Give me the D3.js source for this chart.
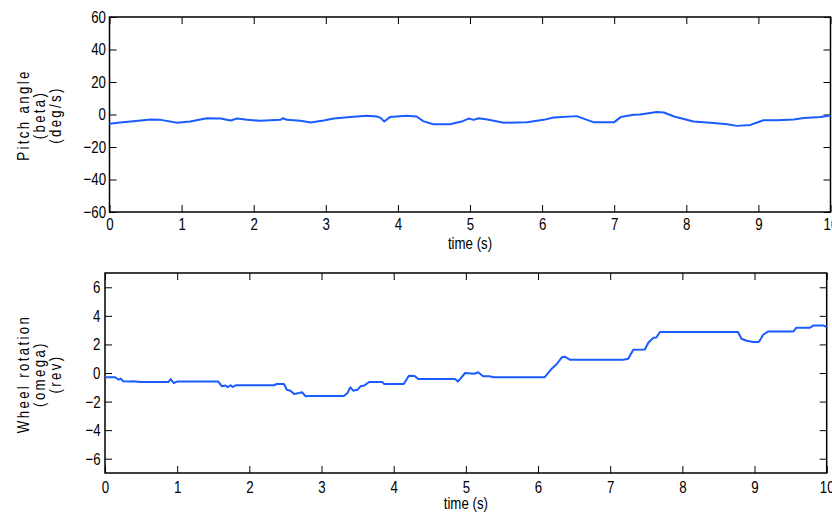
<!DOCTYPE html>
<html>
<head>
<meta charset="utf-8">
<script src="https://cdn.jsdelivr.net/npm/d3@7"></script>
<style>
    body { margin: 0; background: #fff; }
    svg text { font-family: "Liberation Sans", Arial, sans-serif; fill: #000; }
</style>
</head>
<body>
<div id="chart"></div>
<script>
// Pitch angle (deg/s)
const pitchTime = [0, 0.15, 0.33, 0.57, 0.71, 0.94, 1.12, 1.35, 1.54, 1.68, 1.77, 1.91, 2.09, 2.37, 2.41, 2.46,
    2.65, 2.79, 2.97, 3.11, 3.34, 3.57, 3.71, 3.76, 3.81, 3.89, 4.12, 4.26, 4.35, 4.49, 4.72, 4.90, 4.98,
    5.05, 5.12, 5.24, 5.47, 5.79, 6.02, 6.16, 6.48, 6.71, 6.85, 7.00, 7.09, 7.27, 7.36, 7.59, 7.69, 7.83,
    8.10, 8.38, 8.57, 8.70, 8.89, 9.07, 9.26, 9.49, 9.63, 9.86, 10];
const pitchValue = [-5.7, -4.9, -4.1, -3.1, -3.3, -5.1, -4.3, -2.3, -2.5, -3.7, -2.5, -3.3, -3.9, -3.3, -2.3, -3.3,
    -3.9, -4.9, -3.7, -2.5, -1.6, -0.8, -1.2, -2.1, -4.3, -1.6, -0.8, -1.2, -4.1, -6.0, -6.0, -4.1, -2.5,
    -3.3, -2.3, -3.1, -5.1, -4.7, -3.3, -1.8, -1.0, -4.7, -4.7, -4.7, -1.6, -0.2, 0.0, 1.6, 1.2, -1.2,
    -4.3, -5.3, -6.0, -7.0, -6.4, -3.5, -3.5, -3.1, -2.1, -1.6, -0.6];

// Wheel rotation (rev)
const wheelTime = [0, 0.14, 0.19, 0.22, 0.25, 0.35, 0.39, 0.49, 0.88, 0.91, 0.95, 1.0, 1.57, 1.62, 1.67, 1.70,
    1.74, 1.77, 1.81, 2.34, 2.38, 2.48, 2.52, 2.57, 2.62, 2.69, 2.73, 2.78, 2.82, 3.31, 3.36, 3.40, 3.44,
    3.50, 3.54, 3.59, 3.66, 3.84, 3.87, 4.14, 4.21, 4.29, 4.34, 4.85, 4.89, 4.99, 5.12, 5.17, 5.24, 5.33,
    5.38, 6.09, 6.19, 6.26, 6.33, 6.37, 6.44, 7.18, 7.25, 7.32, 7.48, 7.53, 7.60, 7.64, 7.69, 8.77, 8.82,
    8.89, 8.98, 9.06, 9.12, 9.19, 9.54, 9.58, 9.77, 9.82, 9.95, 10];
const wheelValue = [-0.3, -0.3, -0.47, -0.4, -0.58, -0.6, -0.58, -0.63, -0.63, -0.42, -0.7, -0.6, -0.6, -0.93, -0.88, -1.0,
    -0.86, -0.98, -0.86, -0.86, -0.77, -0.77, -1.17, -1.24, -1.47, -1.4, -1.35, -1.63, -1.61, -1.61, -1.4, -1.0, -1.24,
    -1.17, -0.93, -0.88, -0.63, -0.63, -0.77, -0.77, -0.19, -0.21, -0.42, -0.42, -0.6, 0.0, -0.05, 0.05, -0.23, -0.23,
    -0.3, -0.3, 0.3, 0.63, 1.1, 1.14, 0.93, 0.93, 1.0, 1.63, 1.65, 2.14, 2.47, 2.49, 2.87, 2.87, 2.4,
    2.26, 2.17, 2.17, 2.68, 2.91, 2.91, 3.17, 3.17, 3.33, 3.33, 3.22];

const timeTicks = [0, 1, 2, 3, 4, 5, 6, 7, 8, 9, 10];
const pitchTicks = [-60, -40, -20, 0, 20, 40, 60];
const wheelTicks = [-6, -4, -2, 0, 2, 4, 6];

const panels = [
    {
        time: pitchTime, value: pitchValue, yDomain: [-60, 60], yTicks: pitchTicks,
        box: { left: 109.5, right: 830.5, top: 17, bottom: 212 },
        xPad: 5.5, yPad: 3.5, xLabelY: 249, yLabelMid: 115,
        yLabel: ["Pitch angle", "(beta)", "(deg/s)"],
    },
    {
        time: wheelTime, value: wheelValue, yDomain: [-7, 7], yTicks: wheelTicks,
        box: { left: 105, right: 826.7, top: 273, bottom: 473 },
        xPad: 8, yPad: 4.5, xLabelY: 509, yLabelMid: 374,
        yLabel: ["Wheel rotation", "(omega)", "(rev)"],
    },
];

const svg = d3.select("#chart")
    .append("svg")
    .attr("width", 832)
    .attr("height", 514);

const tickLen = 7;
const condense = 0.78; // the original uses a narrow face

panels.forEach((p) => {
    const b = p.box;
    const x = d3.scaleLinear().domain([0, 10]).range([b.left, b.right]);
    const y = d3.scaleLinear().domain(p.yDomain).range([b.bottom, b.top]);

    const g = svg.append("g");

    // bottom axis with labels, inward ticks
    const xAxis = g.append("g")
        .attr("transform", `translate(0,${b.bottom})`)
        .call(d3.axisBottom(x).tickValues(timeTicks).tickSize(-tickLen).tickSizeOuter(0)
            .tickPadding(p.xPad).tickFormat(d3.format("d")));

    // top axis ticks only
    const xTop = g.append("g")
        .attr("transform", `translate(0,${b.top})`)
        .call(d3.axisTop(x).tickValues(timeTicks).tickSize(-tickLen).tickSizeOuter(0).tickFormat(""));

    // left axis with labels
    const yAxis = g.append("g")
        .attr("transform", `translate(${b.left},0)`)
        .call(d3.axisLeft(y).tickValues(p.yTicks).tickSize(-tickLen).tickSizeOuter(0)
            .tickPadding(p.yPad).tickFormat(d3.format("d")));

    // right axis ticks only
    const yRight = g.append("g")
        .attr("transform", `translate(${b.right},0)`)
        .call(d3.axisRight(y).tickValues(p.yTicks).tickSize(-tickLen).tickSizeOuter(0).tickFormat(""));

    [xAxis, xTop, yAxis, yRight].forEach((a) => {
        a.select(".domain").remove();
        a.selectAll(".tick line").attr("stroke", "#000").attr("stroke-width", 1);
        a.selectAll(".tick text").style("font-size", "17px").attr("font-family", null);
    });

    // box
    g.append("rect")
        .attr("x", b.left)
        .attr("y", b.top)
        .attr("width", b.right - b.left)
        .attr("height", b.bottom - b.top)
        .attr("fill", "none")
        .attr("stroke", "#000")
        .attr("stroke-width", 1.5);

    // the trace
    const line = d3.line()
        .x((d, i) => x(p.time[i]))
        .y((d) => y(d));

    g.append("path")
        .datum(p.value)
        .attr("fill", "none")
        .attr("stroke", "#1a5cff")
        .attr("stroke-width", 2)
        .attr("stroke-linejoin", "round")
        .attr("d", line);

    // x label
    g.append("text")
        .attr("class", "narrow")
        .attr("x", (b.left + b.right) / 2)
        .attr("y", p.xLabelY)
        .attr("text-anchor", "middle")
        .style("font-size", "17px")
        .text("time (s)");

    // y label, three stacked lines
    const yl = g.append("text")
        .attr("transform", `translate(0,${p.yLabelMid}) rotate(-90)`)
        .attr("text-anchor", "middle")
        .style("font-size", "17px")
        .style("letter-spacing", "3px");

    p.yLabel.forEach((s, i) => {
        yl.append("tspan")
            .attr("class", "narrow")
            .attr("x", 0)
            .attr("y", 29 + i * 16)
            .text(s);
    });
});

// squeeze every label so it looks like the narrow face of the original
svg.selectAll(".tick text, text.narrow, tspan.narrow").each(function () {
    const w = this.getComputedTextLength();
    d3.select(this)
        .attr("textLength", w * condense)
        .attr("lengthAdjust", "spacingAndGlyphs");
});
</script>
</body>
</html>
